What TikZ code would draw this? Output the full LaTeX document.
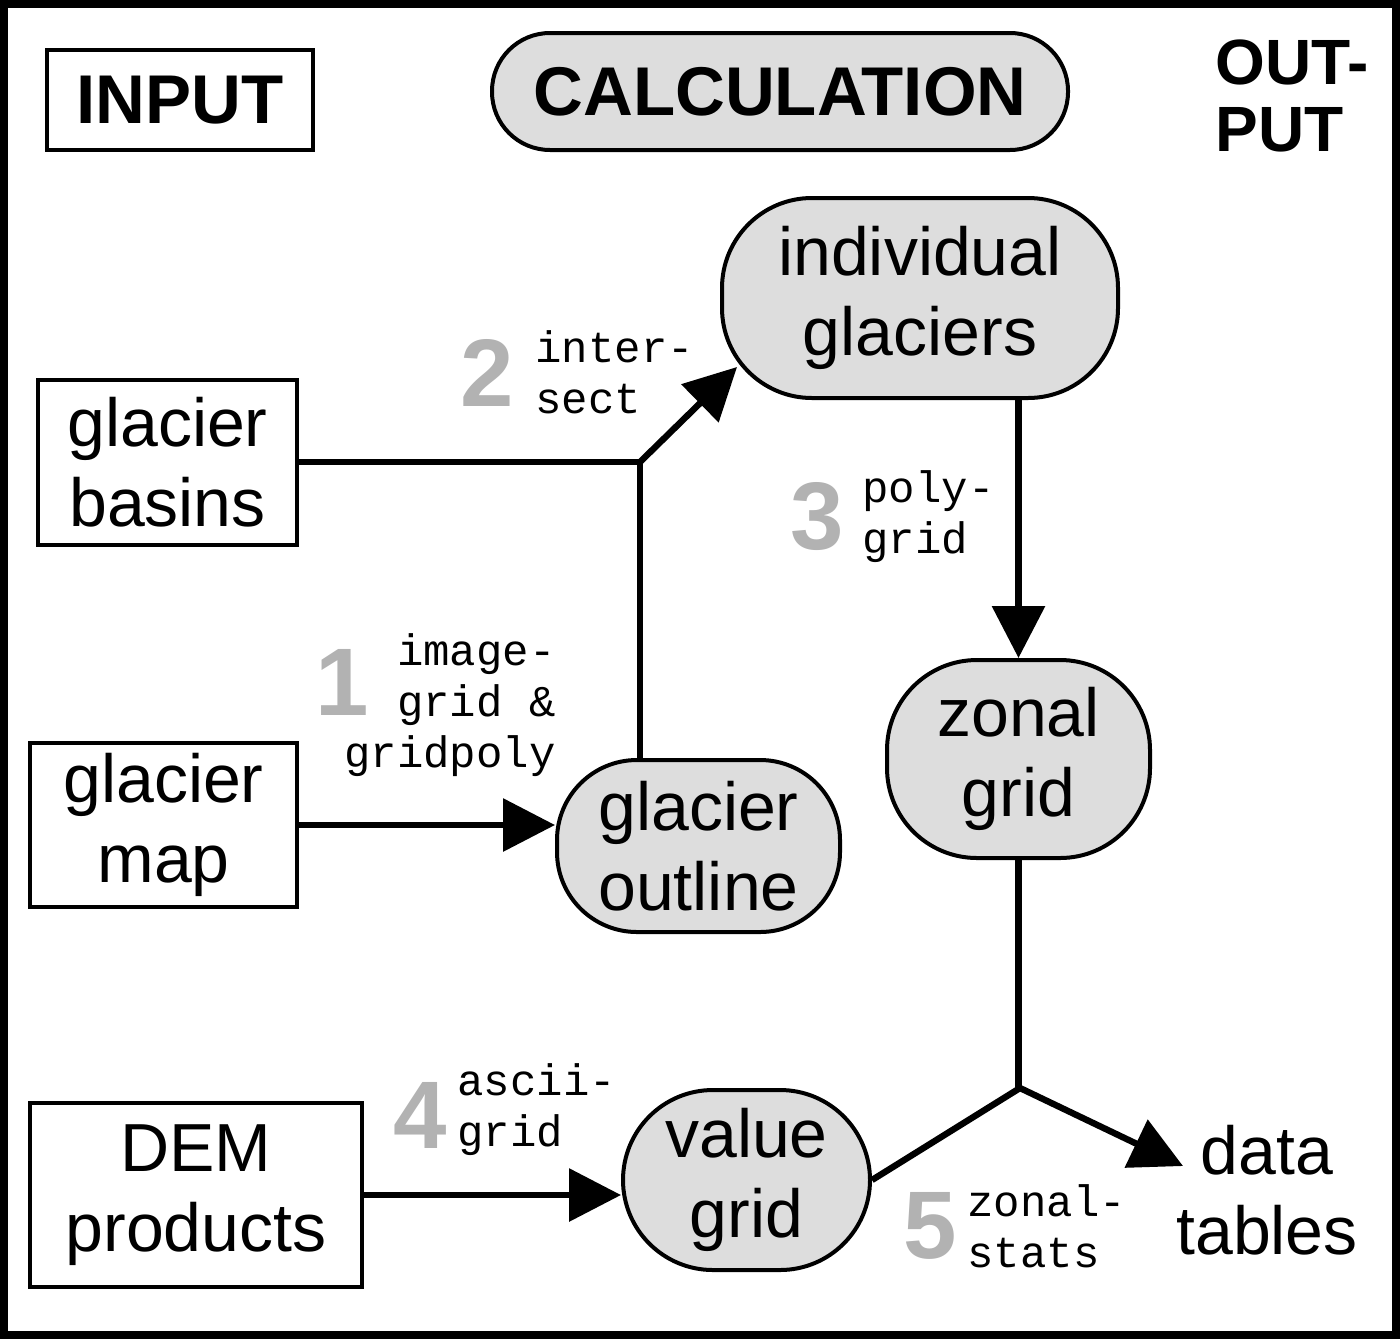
\documentclass[tikz,border=0pt]{standalone}
\usepackage{fontspec}
\setmainfont{Liberation Sans}
\setmonofont{Liberation Mono}
\usetikzlibrary{arrows.meta}
\definecolor{boxgray}{RGB}{221,221,221}
\definecolor{numgray}{RGB}{178,178,178}
\begin{document}
\begin{tikzpicture}[x=0.5pt,y=-0.5pt,
  txt/.style={font=\fontsize{34}{40}\selectfont, align=center},
  inbox/.style={txt, draw, line width=2pt, inner sep=0pt},
  calcbox/.style={txt, draw, line width=2pt, fill=boxgray, inner sep=0pt, rounded corners=45pt},
  head/.style={font=\fontsize{34.5}{33.5}\selectfont\bfseries, inner sep=0pt},
  conn/.style={line width=3.2pt},
  arr/.style={conn, -{Triangle[length=26pt,width=26pt]}},
  num/.style={font=\fontsize{48}{48}\selectfont\bfseries, text=numgray, inner sep=0pt},
  cmd/.style={font=\ttfamily\fontsize{22}{25.5}\selectfont, inner sep=0pt}
]
\useasboundingbox (0,0) rectangle (1400,1339);
\draw[line width=4pt] (4,4) rectangle (1396,1335);

% headings
\node[head, draw, line width=2pt, minimum width=133pt, minimum height=50pt] (input) at (180,100) {INPUT};
\node[head, draw, line width=2pt, fill=boxgray, minimum width=288pt, minimum height=58.5pt, rounded corners=29pt] (calc) at (780,91.5) {CALCULATION};
\node[head, font=\fontsize{32}{33.5}\selectfont\bfseries, align=left] (output) at (1292,96) {OUT-\\PUT};

% input boxes
\node[inbox, minimum width=129.5pt, minimum height=82.5pt] (basins) at (167.5,462.5) {glacier\\basins};
\node[inbox, minimum width=133.5pt, minimum height=82pt] (map) at (163.5,825) {glacier\\map};
\node[inbox, minimum width=166pt, minimum height=92pt] (dem) at (196,1195) {DEM\\products};

% calculation boxes
\node[calcbox, minimum width=198pt, minimum height=100pt] (indiv) at (920,298) {individual\\glaciers};
\node[calcbox, minimum width=141.5pt, minimum height=86pt, rounded corners=40pt] (outline) at (698.5,846) {glacier\\outline};
\node[calcbox, minimum width=131.5pt, minimum height=99pt] (zonal) at (1018.5,759) {zonal\\grid};
\node[calcbox, minimum width=123.5pt, minimum height=90pt] (value) at (746.5,1180) {value\\grid};

% output
\node[txt, inner sep=0pt] (data) at (1267,1190) {data\\tables};

% junctions
\coordinate (j1) at (640,462);
\coordinate (t2) at (737,367);
\coordinate (j5) at (1020,1088);
\coordinate (t5) at (1183,1166);

% connectors
\draw[conn] (basins.east |- j1) -- (j1);
\draw[conn] (j1 |- outline.north) -- (j1);
\draw[arr] (j1) -- (t2);
\draw[arr] (map.east) -- (map.east -| outline.west);
\draw[arr] (zonal.north |- indiv.south) -- (zonal.north);
\draw[conn] (zonal.south) -- (zonal.south |- j5);
\draw[conn] (value.east) -- (j5);
\draw[arr] (j5) -- (t5);
\draw[arr] (dem.east) -- (dem.east -| value.west);

% step labels
\node[num] (n1) at (342,682) {1};
\node[cmd, align=right, anchor=east] (c1) at (556,705) {image-\\grid \&\\gridpoly};
\node[num] (n2) at (487,373) {2};
\node[cmd, align=left, anchor=west] (c2) at (535,372) {inter-\\sect};
\node[num] (n3) at (817,517) {3};
\node[cmd, align=left, anchor=west] (c3) at (862,517) {poly-\\grid};
\node[num] (n4) at (420,1115) {4};
\node[cmd, align=left, anchor=west] (c4) at (457,1110) {ascii-\\grid};
\node[num] (n5) at (930,1226) {5};
\node[cmd, align=left, anchor=west] (c5) at (967,1226) {zonal-\\stats};
\end{tikzpicture}
\end{document}
